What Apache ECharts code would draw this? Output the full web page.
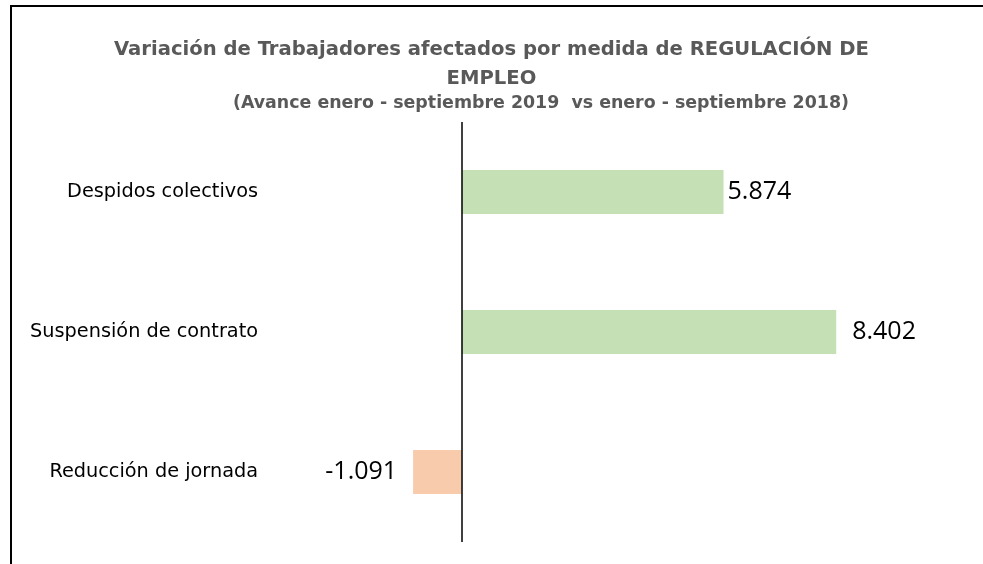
<!DOCTYPE html>
<html>
<head>
<meta charset="utf-8">
<script src="https://cdn.jsdelivr.net/npm/echarts@6/dist/echarts.min.js"></script>
<style>
html, body { margin: 0; padding: 0; background: #fff; }
#container { width: 983px; height: 564px; }
</style>
</head>
<body>
<div id="container"></div>
<script>
// datos
var categorias = ['Despidos colectivos', 'Suspensión de contrato', 'Reducción de jornada'];
var valores = [5874, 8402, -1091];
var colores = ['#c5e0b4', '#c5e0b4', '#f8cbad'];

var chart = echarts.init(document.getElementById('container'));

function fmt(v) {
    var s = Math.abs(v).toString().replace(/\B(?=(\d{3})+(?!\d))/g, '.');
    return (v < 0 ? '-' : '') + s;
}

var datos = valores.map(function (v, i) {
    return {
        value: v,
        itemStyle: { color: colores[i] },
        label: {
            position: v < 0 ? 'left' : 'right',
            distance: i === 0 ? 4 : 16
        }
    };
});

option = {
    title: [{
        text: 'Variación de Trabajadores afectados por medida de REGULACIÓN DE\nEMPLEO',
        left: 'center',
        top: 30,
        textStyle: {
            fontFamily: 'DejaVu Sans',
            fontSize: 19.6,
            fontWeight: 'bold',
            color: '#595959',
            lineHeight: 29
        }
    }, {
        text: '(Avance enero - septiembre 2019  vs enero - septiembre 2018)',
        left: 228,
        top: 90,
        textStyle: {
            fontFamily: 'DejaVu Sans',
            fontSize: 17.4,
            fontWeight: 'bold',
            color: '#595959'
        }
    }],
    grid: { left: 16, right: 31, top: 122, bottom: 22, containLabel: false, outerBoundsMode: 'none' },
    xAxis: {
        type: 'value',
        min: -10000,
        max: 11000,
        interval: 1000,
        show: false
    },
    yAxis: {
        type: 'category',
        data: categorias,
        inverse: true,
        position: 'left',
        offset: -242,
        axisLine: { show: false, onZero: false },
        axisTick: { show: false },
        axisLabel: {
            margin: 0,
            padding: [5, 0, 0, 0],
            fontFamily: 'DejaVu Sans',
            fontSize: 19.3,
            color: '#000'
        }
    },
    series: [{
        type: 'bar',
        data: datos,
        barWidth: 44,
        label: {
            show: true,
            padding: [6, 0, 0, 0],
            fontFamily: 'Open Sans',
            fontSize: 25,
            color: '#000',
            formatter: function (p) { return fmt(p.value); }
        },
        markLine: {
            silent: true,
            symbol: 'none',
            label: { show: false },
            lineStyle: { color: '#000', width: 1.5, type: 'solid' },
            data: [{ xAxis: 0 }]
        }
    }],
    graphic: [
        { type: 'line', shape: { x1: 10, y1: 6, x2: 983, y2: 6 }, style: { stroke: '#000', lineWidth: 2 } },
        { type: 'line', shape: { x1: 11, y1: 5, x2: 11, y2: 564 }, style: { stroke: '#000', lineWidth: 2 } }
    ]
};

chart.setOption(option);
</script>
</body>
</html>
